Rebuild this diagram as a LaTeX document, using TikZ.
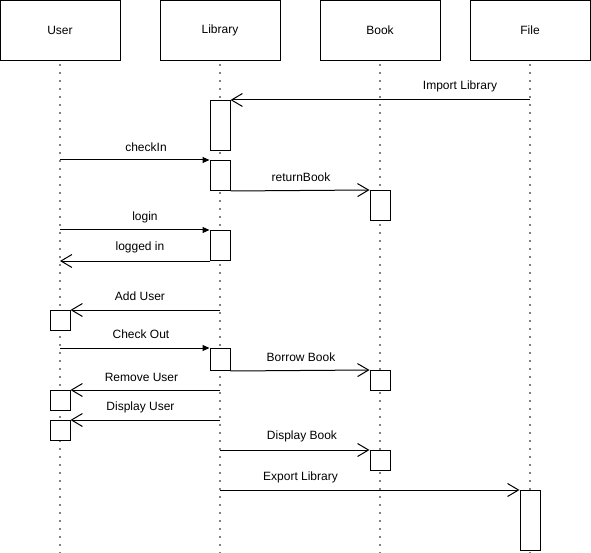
\documentclass[tikz,border=0pt]{standalone}
\usepackage{fontspec}
\setmainfont{Liberation Sans}
\usetikzlibrary{arrows.meta,positioning,calc}

\begin{document}
\begin{tikzpicture}[x=1pt, y=-1pt,
            every node/.style={font=\fontsize{12}{14}\selectfont},
            head/.style={draw, line width=1pt, minimum width=120pt, minimum height=60pt, inner sep=0pt},
            act/.style={draw, fill=white, line width=1pt, minimum width=20pt, inner sep=0pt, anchor=north},
            lifeline/.style={line width=1.8pt, line cap=round, dash pattern=on 0pt off 8pt},
            call/.style={draw, line width=1pt, -{Triangle[length=7pt,width=6pt]}},
            reply/.style={draw, line width=1pt, -{Straight Barb[length=11pt,width=13pt]}}]
        \useasboundingbox (0,0) rectangle (591,553);

        % heads
        \node[head] (user) at (60,30.5) {User};
        \node[head] (library) at (220,30.5) {Library};
        \node[head] (book) at (380,30.5) {Book};
        \node[head] (file) at (530,30.5) {File};

        \foreach \p in {user,library,book,file}
            \draw[lifeline] ($(\p.south)+(0,4)$) -- (\p.south |- 0,553);

        % activations
        \node[act, minimum height=50pt] (libA) at (220,100) {};
        \node[act, minimum height=30pt] (libB) at (220,160) {};
        \node[act, minimum height=30pt] (bookA) at (380,190) {};
        \node[act, minimum height=30pt] (libC) at (220,230) {};
        \node[act, minimum height=20pt] (userA) at (60,310) {};
        \node[act, minimum height=22pt] (libD) at (220,348) {};
        \node[act, minimum height=20pt] (bookB) at (380,370) {};
        \node[act, minimum height=20pt] (userB) at (60,390) {};
        \node[act, minimum height=20pt] (userC) at (60,420) {};
        \node[act, minimum height=20pt] (bookC) at (380,450) {};
        \node[act, minimum height=60pt] (fileA) at (530,490) {};

        % messages
        \draw[reply] (file |- libA.north) -- (libA.north east);
        \draw[call] (user |- libB.north) -- (libB.north west);
        \draw[reply] (libB.south east) -- (bookA.north west);
        \draw[call] (user |- libC.north) -- (libC.north west);
        \draw[reply] (libC.south west) -- (user |- libC.south);
        \draw[reply] (library |- userA.north) -- (userA.north east);
        \draw[call] (user |- libD.north) -- (libD.north west);
        \draw[reply] (libD.south east) -- (bookB.north west);
        \draw[reply] (library |- userB.north) -- (userB.north east);
        \draw[reply] (library |- userC.north) -- (userC.north east);
        \draw[reply] (library |- bookC.north) -- (bookC.north west);
        \draw[reply] (library |- fileA.north) -- (fileA.north west);

        % labels
        \node (lblImport) at (460,86) {Import Library};
        \node (lblCheckIn) at (146,147) {checkIn};
        \node (lblReturn) at (301,177) {returnBook};
        \node (lblLogin) at (145,217) {login};
        \node (lblLogged) at (140,247) {logged in};
        \node (lblAdd) at (140,296) {Add User};
        \node (lblCheckOut) at (141,334) {Check Out};
        \node (lblBorrow) at (301,357) {Borrow Book};
        \node (lblRemove) at (141.5,377) {Remove User};
        \node (lblDispUser) at (140.5,407) {Display User};
        \node (lblDispBook) at (302,436) {Display Book};
        \node (lblExport) at (300.5,477) {Export Library};
\end{tikzpicture}
\end{document}
